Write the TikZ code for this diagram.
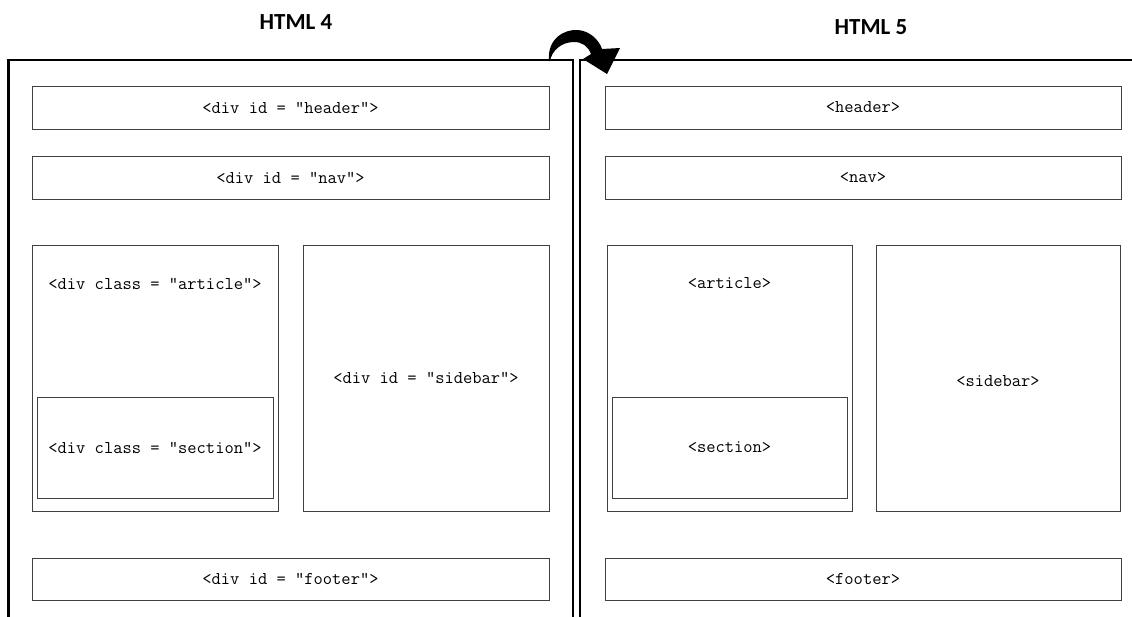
\documentclass[tikz,border=0pt]{standalone}
\usepackage{fontspec}
\newfontfamily\titlefont{Carlito}
\usetikzlibrary{positioning}
\tikzset{
  divbox/.style={draw=black!75, line width=0.9pt, inner sep=0pt, minimum width=#1},
  divbox/.default=517,
  tag/.style={font=\ttfamily\fontsize{18}{20}\selectfont, inner sep=0pt},
  frame/.style={line width=2.6pt, line cap=rect},
  pagetitle/.style={font=\titlefont\bfseries\fontsize{23}{26}\selectfont, inner sep=0pt}
}
\begin{document}
\begin{tikzpicture}[x=1pt, y=-1pt]
	\useasboundingbox (0,0) rectangle (1132,616);
	\node[pagetitle] (t4) at (296,22) {HTML 4};
	\node[pagetitle] (t5) at (871,27) {HTML 5};
	\draw[frame] (8.5,640) -- (8.5,60) -- (573,60) -- (573,640);
	\draw[frame] (580,640) -- (580,60) -- (1140,60);
	\node[divbox, minimum height=43, tag] (head4) at (290.5,107.5) {<div id = ”header”>};
	\node[divbox, minimum height=43, tag] (nav4) at (290.5,177.5) {<div id = ”nav”>};
	\node[divbox=246, minimum height=266] (art4) at (155,378) {};
	\node[tag] (art4lbl) at ([yshift=-39pt]art4.north) {<div class = ”article”>};
	\node[divbox=236, minimum height=101, tag] (sec4) at (155,447.5) {<div class = ”section”>};
	\node[divbox=246, minimum height=266, tag] (side4) at (426,378) {<div id = ”sidebar”>};
	\node[divbox, minimum height=42, tag] (foot4) at (290.5,579) {<div id = ”footer”>};
	\node[divbox=516, minimum height=43, tag] (head5) at (863,107.5) {<header>};
	\node[divbox=516, minimum height=43, tag] (nav5) at (863,177.5) {<nav>};
	\node[divbox=245, minimum height=266] (art5) at (729.5,378) {};
	\node[tag] (art5lbl) at ([yshift=-39pt]art5.north) {<article>};
	\node[divbox=235, minimum height=101, tag] (sec5) at (729.5,447.5) {<section>};
	\node[divbox=244, minimum height=266] (side5) at (998,378) {};
	\node[tag] (side5lbl) at ([yshift=-3pt]side5.center) {<sidebar>};
	\node[divbox=516, minimum height=42, tag] (foot5) at (863,579) {<footer>};
	\fill (549,61) .. controls (547,38) and (565,29) .. (578,30)
		.. controls (590,31) and (599,40) .. (602,49) -- (620,48) -- (607,74) -- (583,59)
		-- (591,54) .. controls (588,46) and (582,42) .. (574,42)
		.. controls (562,42) and (552,50) .. (550,61) -- cycle;
\end{tikzpicture}
\end{document}
